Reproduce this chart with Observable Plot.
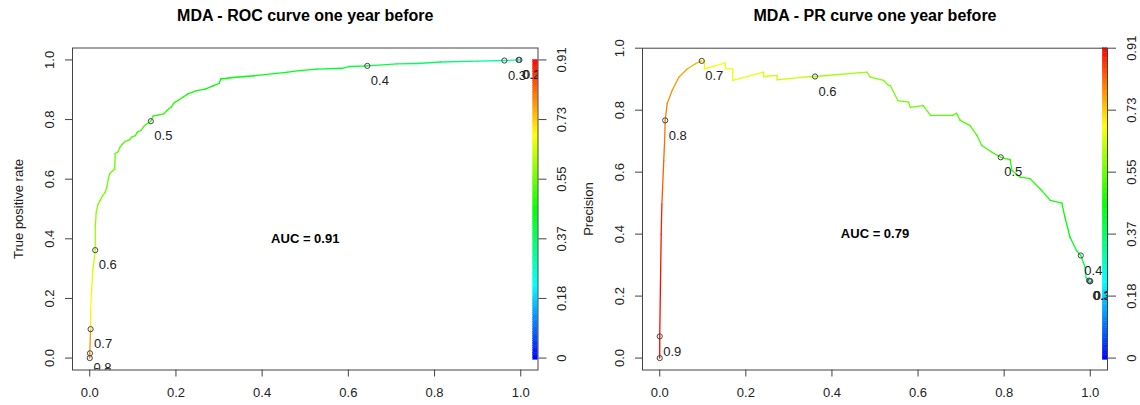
<!DOCTYPE html>
<html><head><meta charset="utf-8">
<script src="https://cdn.jsdelivr.net/npm/d3@7"></script>
<script src="https://cdn.jsdelivr.net/npm/@observablehq/plot@0.6"></script>
<style>
html,body{margin:0;padding:0;background:#fff;}
#wrap{display:flex;width:1140px;height:405px;overflow:hidden;}
#wrap svg{display:block;}
</style></head><body><div id="wrap"></div>
<script>
// ---------- text ----------
const rocTitle = "MDA - ROC curve one year before";
const prTitle = "MDA - PR curve one year before";
const rocYLabel = "True positive rate";
const prYLabel = "Precision";
const rocAucText = "AUC = 0.91";
const prAucText = "AUC = 0.79";
const axisTicks = [0, 0.2, 0.4, 0.6, 0.8, 1.0];
const colorbarTickLabels = ["0", "0.18", "0.37", "0.55", "0.73", "0.91"];
const cutoffMax = 0.914;

// ---------- ROC curve (false positive rate, true positive rate, cutoff) ----------
const rocFpr = [0, 0, 0.002, 0.002, 0.004, 0.007, 0.0127, 0.013, 0.015, 0.019, 0.024, 0.03, 0.036, 0.04, 0.043, 0.046, 0.052, 0.058, 0.059, 0.066, 0.07, 0.076, 0.083, 0.093, 0.097, 0.106, 0.11, 0.119, 0.127, 0.1417, 0.147, 0.158, 0.172, 0.179, 0.189, 0.196, 0.206, 0.216, 0.228, 0.248, 0.268, 0.286, 0.30, 0.304, 0.333, 0.383, 0.434, 0.46, 0.486, 0.527, 0.586, 0.603, 0.644, 0.713, 0.76, 0.814, 0.9, 0.962, 0.995, 1.0];
const rocTpr = [0, 0.016, 0.097, 0.16, 0.22, 0.29, 0.362, 0.44, 0.489, 0.515, 0.528, 0.545, 0.556, 0.575, 0.60, 0.617, 0.627, 0.634, 0.686, 0.692, 0.707, 0.718, 0.727, 0.733, 0.741, 0.746, 0.757, 0.764, 0.78, 0.7945, 0.812, 0.815, 0.819, 0.83, 0.842, 0.857, 0.865, 0.875, 0.886, 0.897, 0.902, 0.913, 0.921, 0.936, 0.941, 0.947, 0.955, 0.959, 0.964, 0.969, 0.972, 0.978, 0.98, 0.987, 0.988, 0.993, 0.996, 0.998, 1.0, 1.0];
const rocCutoff = [0.80, 0.78, 0.70, 0.68, 0.66, 0.635, 0.60, 0.585, 0.575, 0.57, 0.566, 0.562, 0.558, 0.554, 0.55, 0.546, 0.543, 0.54, 0.536, 0.533, 0.53, 0.526, 0.523, 0.52, 0.517, 0.514, 0.511, 0.508, 0.505, 0.50, 0.497, 0.494, 0.49, 0.487, 0.484, 0.481, 0.478, 0.475, 0.472, 0.468, 0.464, 0.46, 0.457, 0.455, 0.45, 0.443, 0.435, 0.43, 0.425, 0.42, 0.413, 0.41, 0.40, 0.38, 0.365, 0.35, 0.32, 0.30, 0.20, 0.10];
const rocMarkFpr = [0, 0.0005, 0.002, 0.0127, 0.1417, 0.644, 0.962, 0.995, 0.997];
const rocMarkTpr = [0, 0.016, 0.097, 0.362, 0.7945, 0.98, 0.998, 1.0, 1.0];
const rocMarkLabel = ["0.9", "0.8", "0.7", "0.6", "0.5", "0.4", "0.3", "0.2", "0.1"];

// ---------- PR curve (recall, precision, cutoff) ----------
const prRecall = [0, 0, 0.0017, 0.0034, 0.005, 0.0067, 0.0093, 0.0113, 0.0127, 0.0173, 0.029, 0.0443, 0.0637, 0.083, 0.0976, 0.1039, 0.1039, 0.128, 0.1526, 0.1526, 0.1695, 0.1695, 0.2415, 0.2415, 0.2725, 0.2725, 0.3343, 0.3607, 0.4813, 0.489, 0.52, 0.5315, 0.536, 0.553, 0.578, 0.582, 0.612, 0.629, 0.68, 0.689, 0.698, 0.721, 0.737, 0.748, 0.772, 0.792, 0.814, 0.818, 0.837, 0.86, 0.887, 0.907, 0.934, 0.941, 0.953, 0.968, 0.978, 0.988, 0.99, 0.997, 1.0];
const prPrecision = [0, 0.07, 0.24, 0.40, 0.497, 0.55, 0.637, 0.70, 0.767, 0.821, 0.864, 0.906, 0.933, 0.95, 0.959, 0.958, 0.9335, 0.943, 0.9528, 0.9335, 0.9335, 0.8958, 0.9226, 0.9087, 0.912, 0.898, 0.9064, 0.9087, 0.9226, 0.9064, 0.896, 0.8797, 0.879, 0.831, 0.826, 0.809, 0.815, 0.783, 0.783, 0.79, 0.767, 0.75, 0.718, 0.686, 0.664, 0.648, 0.640, 0.605, 0.584, 0.579, 0.541, 0.509, 0.50, 0.455, 0.39, 0.347, 0.331, 0.293, 0.261, 0.248, 0.248];
const prCutoff = [0.914, 0.905, 0.90, 0.89, 0.84, 0.83, 0.82, 0.81, 0.80, 0.79, 0.78, 0.77, 0.76, 0.75, 0.70, 0.698, 0.696, 0.685, 0.676, 0.675, 0.672, 0.670, 0.65, 0.648, 0.64, 0.638, 0.615, 0.60, 0.575, 0.572, 0.565, 0.562, 0.56, 0.555, 0.55, 0.548, 0.542, 0.538, 0.528, 0.526, 0.524, 0.52, 0.516, 0.513, 0.506, 0.50, 0.495, 0.493, 0.488, 0.482, 0.475, 0.468, 0.46, 0.455, 0.44, 0.415, 0.40, 0.37, 0.34, 0.30, 0.10];
const prMarkRecall = [0, 0, 0.0127, 0.0976, 0.3607, 0.792, 0.978, 0.997, 0.999, 1.0];
const prMarkPrecision = [0, 0.07, 0.767, 0.959, 0.9087, 0.648, 0.331, 0.25, 0.248, 0.248];
const prMarkLabel = ["", "0.9", "0.8", "0.7", "0.6", "0.5", "0.4", "0.3", "0.2", "0.1"];

// ---------- helpers ----------
const FONT = "'Liberation Sans', Arial, Helvetica, sans-serif";
// ROCR colorize palette: rev(rainbow(256, start=0, end=4/6))
const paletteColor = t => d3.hsl(240 * (1 - Math.max(0, Math.min(1, t))), 1, 0.5).formatHex();

function panel({xs, ys, cuts, mx, my, ml, title, ylab, auc, yDomain, marginLeft, marginRight, marginTop}) {
  const segs = d3.range(xs.length - 1).map(i => ({
    x1: xs[i], y1: ys[i], x2: xs[i + 1], y2: ys[i + 1], c: cuts[i]
  }));
  const marks = mx.map((x, i) => ({x, y: my[i], label: ml[i]}));
  const nStripes = 128;
  const cb0 = -0.006, cb1 = 1.0;
  const stripes = d3.range(nStripes).map(i => ({
    y1: cb0 + (cb1 - cb0) * i / nStripes,
    y2: cb0 + (cb1 - cb0) * (i + 1) / nStripes,
    t: (i + 0.5) / nStripes
  }));
  const cbTicks = colorbarTickLabels.map((s, i) => ({y: axisTicks[i], s}));
  return Plot.plot({
    width: 570, height: 405,
    marginLeft, marginRight, marginTop, marginBottom: 35.5,
    x: {domain: [-0.04, 1.04]},
    y: {domain: yDomain},
    style: {fontFamily: FONT, fontSize: "13px", background: "white", color: "#222", overflow: "visible"},
    marks: [
      Plot.axisX(axisTicks, {tickSize: 7, tickPadding: 11, tickFormat: d => d.toFixed(1), fontSize: 13, label: null, stroke: "#444", fill: "#222"}),
      Plot.axisY(axisTicks, {anchor: "left", tickSize: 7, tickFormat: () => "", label: null, stroke: "#444"}),
      Plot.axisY(axisTicks, {anchor: "right", tickSize: 8, tickFormat: () => "", label: null, stroke: "#444"}),
      Plot.text(axisTicks, {y: d => d, text: d => d.toFixed(1), frameAnchor: "left", dx: -23, rotate: -90, textAnchor: "middle", lineAnchor: "middle", fontSize: 13, fill: "#222"}),
      Plot.text(cbTicks, {y: "y", text: "s", frameAnchor: "right", dx: 24, rotate: -90, textAnchor: "middle", lineAnchor: "middle", fontSize: 13, fill: "#222"}),
      Plot.text([ylab], {frameAnchor: "left", dx: -54, rotate: -90, textAnchor: "middle", lineAnchor: "middle", fontSize: 13, fill: "#222"}),
      Plot.text([title], {frameAnchor: "top", dy: -32, textAnchor: "middle", lineAnchor: "middle", fontSize: 16, fontWeight: "bold", fill: "#000"}),
      Plot.rect(stripes, {x1: 1.029, x2: 1.04, y1: "y1", y2: "y2", fill: d => paletteColor(d.t), stroke: d => paletteColor(d.t), strokeWidth: 0.4}),
      Plot.link(segs, {x1: "x1", y1: "y1", x2: "x2", y2: "y2", stroke: d => paletteColor(d.c / cutoffMax), strokeWidth: 1.3, strokeLinecap: "round"}),
      Plot.dot(marks, {x: "x", y: "y", r: 2.6, stroke: "#444", fill: "none", strokeWidth: 1}),
      Plot.text(marks, {x: "x", y: "y", text: "label", dx: 3.5, dy: 15, textAnchor: "start", lineAnchor: "middle", fontSize: 13, fill: "#222", clip: true}),
      Plot.text([auc], {x: 0.5, y: 0.4, text: d => d, textAnchor: "middle", lineAnchor: "middle", fontSize: 13, fontWeight: "bold", fill: "#000"}),
      Plot.frame({stroke: "#444", strokeWidth: 1})
    ]
  });
}

const wrap = document.getElementById("wrap");
wrap.append(panel({
  xs: rocFpr, ys: rocTpr, cuts: rocCutoff,
  mx: rocMarkFpr, my: rocMarkTpr, ml: rocMarkLabel,
  title: rocTitle, ylab: rocYLabel, auc: rocAucText,
  yDomain: [-0.04, 1.04], marginLeft: 72, marginRight: 32.5, marginTop: 47.5
}));
wrap.append(panel({
  xs: prRecall, ys: prPrecision, cuts: prCutoff,
  mx: prMarkRecall, my: prMarkPrecision, ml: prMarkLabel,
  title: prTitle, ylab: prYLabel, auc: prAucText,
  yDomain: [-0.0385, 1.0], marginLeft: 72, marginRight: 33, marginTop: 47.7
}));
</script>
</body></html>
